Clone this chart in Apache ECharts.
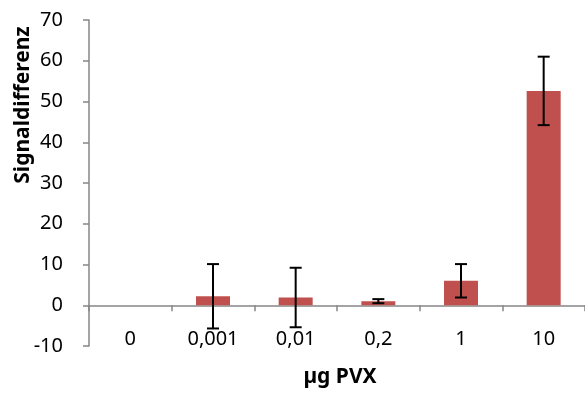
<!DOCTYPE html>
<html>
<head>
<meta charset="utf-8">
<script src="https://cdn.jsdelivr.net/npm/echarts@6/dist/echarts.min.js"></script>
<style>
  html, body { margin: 0; padding: 0; background: #fff; }
  #chart { width: 585px; height: 396px; }
</style>
</head>
<body>
<div id="chart"></div>
<script>
const categories = ['0', '0,001', '0,01', '0,2', '1', '10']
const means = [0, 2.2, 1.9, 1.0, 6.0, 52.6]
const errors = [0, 7.9, 7.3, 0.5, 4.1, 8.4]

const font = 'Noto Sans'
const axisColor = '#868686'

const chart = echarts.init(document.getElementById('chart'))

const option = {
  animation: false,
  grid: { left: 89, top: 20, bottom: 50, width: 503 },
  xAxis: {
    type: 'category',
    data: categories,
    axisLine: { onZero: true, lineStyle: { color: axisColor, width: 1.5 } },
    axisTick: { show: true, interval: 0, length: 6, lineStyle: { color: axisColor, width: 1.5 } },
    axisLabel: { margin: -17, color: '#000', fontFamily: font, fontSize: 20, interval: 0 }
  },
  yAxis: {
    type: 'value',
    min: -10,
    max: 70,
    interval: 10,
    splitLine: { show: false },
    axisLine: { show: true, lineStyle: { color: axisColor, width: 1.5 } },
    axisTick: { show: true, length: 6, lineStyle: { color: axisColor, width: 1.5 } },
    axisLabel: { margin: 26, color: '#000', fontFamily: font, fontSize: 20 }
  },
  graphic: [
    {
      type: 'text',
      x: 23, y: 105,
      rotation: Math.PI / 2,
      style: {
        text: 'Signaldifferenz',
        fontFamily: font, fontSize: 21, fontWeight: 'bold',
        fill: '#000', align: 'center', verticalAlign: 'middle'
      }
    },
    {
      type: 'text',
      x: 340, y: 377,
      style: {
        text: 'µg PVX',
        fontFamily: font, fontSize: 21, fontWeight: 'bold',
        fill: '#000', align: 'center', verticalAlign: 'middle'
      }
    }
  ],
  series: [
    {
      type: 'bar',
      data: means,
      barWidth: 34,
      itemStyle: { color: '#C0504D' }
    },
    {
      type: 'custom',
      data: means.map((m, i) => [i, m - errors[i], m + errors[i]]),
      renderItem: (params, api) => {
        if (errors[params.dataIndex] === 0) return null
        const low = api.coord([api.value(0), api.value(1)])
        const high = api.coord([api.value(0), api.value(2)])
        const half = 6
        const style = { stroke: '#000', lineWidth: 2 }
        return {
          type: 'group',
          children: [
            { type: 'line', shape: { x1: low[0], y1: low[1], x2: high[0], y2: high[1] }, style },
            { type: 'line', shape: { x1: high[0] - half, y1: high[1], x2: high[0] + half, y2: high[1] }, style },
            { type: 'line', shape: { x1: low[0] - half, y1: low[1], x2: low[0] + half, y2: low[1] }, style }
          ]
        }
      },
      z: 10
    }
  ]
}

chart.setOption(option)
</script>
</body>
</html>
